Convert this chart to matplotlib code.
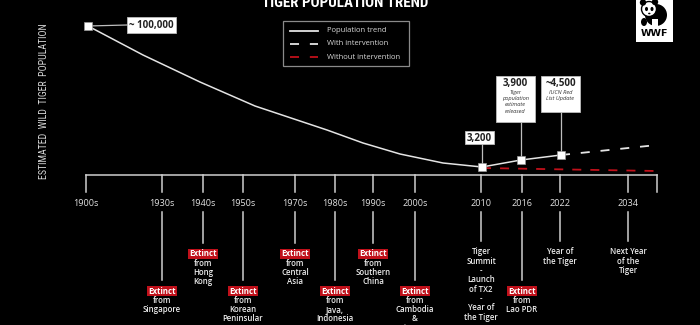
import matplotlib as mpl
import matplotlib.pyplot as plt
from matplotlib import font_manager
from matplotlib.patches import Rectangle, Circle, Ellipse

mpl.rcParams['font.family'] = ['Open Sans', 'DejaVu Sans']

# Timeline categories (position along the drawn timeline)
tick_labels = ["1900s", "1930s", "1940s", "1950s", "1970s", "1980s",
               "1990s", "2000s", "2010", "2016", "2022", "2034"]
tick_pos = [86, 162, 203, 243, 295, 335, 373, 415, 481, 522, 560, 628]
axis_end = 657

# Events below each tick
extinct = [False, True, True, True, True, True, True, True, False, True, False, False]
event_text = [
    "",
    "from\nSingapore",
    "from\nHong\nKong",
    "from\nKorean\nPeninsular",
    "from\nCentral\nAsia",
    "from\nJava,\nIndonesia",
    "from\nSouthern\nChina",
    "from\nCambodia\n&\nVietnam",
    "Tiger\nSummit\n-\nLaunch\nof TX2\n-\nYear of\nthe Tiger",
    "from\nLao PDR",
    "Year of\nthe Tiger",
    "Next Year\nof the\nTiger",
]

# Population trend: position on timeline, height above baseline (schematic)
trend_x = [88, 143, 200, 255, 327, 363, 400, 443, 482, 521, 561]
trend_h = [149, 120, 93, 69, 45, 32, 21, 12, 8, 15, 20]
with_x = [561, 657]
with_h = [20, 30]
without_x = [482, 657]
without_h = [7, 4]

# Callouts: (index in trend, headline, detail)
callouts = [
    (0, "~ 100,000", ""),
    (8, "3,200", ""),
    (9, "3,900", "Tiger\npopulation\nestimate\nreleased"),
    (10, "~4,500", "IUCN Red\nList Update"),
]

BASE = 175
LINE = "#e4e4e4"
RED = "#c0101a"

# pick the narrowest installed family for the condensed headings
installed = {f.name for f in font_manager.fontManager.ttflist}
NARROW = [f for f in ['DejaVu Sans Condensed', 'Roboto Condensed',
                      'Liberation Sans Narrow', 'Roboto'] if f in installed]
NARROW = (NARROW[:1] or []) + ['DejaVu Sans']

fig = plt.figure(figsize=(7, 3.25), dpi=100)
fig.patch.set_facecolor("black")
ax = fig.add_axes([0, 0, 1, 1])
ax.set_facecolor("black")
ax.set_xlim(0, 700)
ax.set_ylim(325, 0)
ax.axis("off")


def fit_length(t, target, vertical=False):
    r = fig.canvas.get_renderer()
    bb = t.get_window_extent(r)
    size = bb.height if vertical else bb.width
    t.set_fontsize(t.get_fontsize() * target / size)


# title (cut at the top edge) and y label
title = ax.text(345, 7, "TIGER POPULATION TREND", ha="center", va="baseline",
                fontsize=11, weight="bold", color="white", family=NARROW)
fit_length(title, 166)
ylab = ax.text(44, 101, "ESTIMATED  WILD  TIGER  POPULATION", rotation=90,
               ha="center", va="center", fontsize=7, color="#d8d8d8",
               family=NARROW)
fit_length(ylab, 157, vertical=True)

# baseline and ticks
ax.plot([tick_pos[0], axis_end], [BASE, BASE], color="#cfcfcf", lw=1.1)
for x in tick_pos + [axis_end]:
    ax.plot([x, x], [BASE, BASE + 17], color="#cfcfcf", lw=1.1)
for x, lab in zip(tick_pos, tick_labels):
    ax.text(x, 203, lab, ha="center", va="center", fontsize=6.6, color="#e0e0e0")

# event drop lines and texts
for i, (x, txt) in enumerate(zip(tick_pos, event_text)):
    if not txt:
        continue
    if extinct[i]:
        end = 243 if i in (2, 4, 6) else 280
    else:
        end = 241
    ax.plot([x, x], [212, end], color="#cfcfcf", lw=1.1)
    y = end + 11
    if extinct[i]:
        ax.text(x, y, "Extinct", ha="center", va="center", fontsize=5.7,
                weight="bold", color="white",
                bbox=dict(boxstyle="square,pad=0.12", fc=RED, ec="none"))
        y += 9.3
    for ln in txt.split("\n"):
        ax.text(x, y, ln, ha="center", va="center", fontsize=5.7,
                weight="semibold", color="#eeeeee")
        y += 9.3

# projections
ax.plot(without_x, [BASE - h for h in without_h], color=RED, lw=1.3,
        dashes=(5, 5), zorder=3)
ax.plot(with_x, [BASE - h for h in with_h], color=LINE, lw=1.3,
        dashes=(5, 6), zorder=3)

# population trend
ty = [BASE - h for h in trend_h]
ax.plot(trend_x, ty, color=LINE, lw=1.1, zorder=4)

# callouts
box_geo = {0: (127, 17, 49, 16), 8: (465, 131, 29, 13),
           9: (496, 76, 39, 46), 10: (541, 76, 39, 36)}
for idx, head, detail in callouts:
    bx, by, bw, bh = box_geo[idx]
    px, py = trend_x[idx], ty[idx]
    if idx == 0:
        ax.plot([px, bx], [py, by + 8], color="#bdbdbd", lw=0.9, zorder=3)
    else:
        ax.plot([px, px], [by + bh, py], color="#bdbdbd", lw=0.9, zorder=3)
    ax.add_patch(Rectangle((bx, by), bw, bh, fc="white", ec="#bbbbbb",
                           lw=0.6, zorder=5))
    if detail:
        ax.text(bx + bw / 2, by + 7.5, head, ha="center", va="center",
                fontsize=7, weight="bold", color="#222222", zorder=6)
        ax.text(bx + bw / 2, by + 14, detail, ha="center", va="top",
                fontsize=4.1, style="italic", color="#333333",
                linespacing=1.3, zorder=6)
    else:
        ax.text(bx + bw / 2, by + bh / 2 + 0.5, head, ha="center", va="center",
                fontsize=7, weight="bold", color="#222222", zorder=6)
    ax.plot(px, py, marker="s", ms=5.5, mfc="white", mec="#999999",
            mew=0.5, zorder=7)

# legend
ax.add_patch(Rectangle((283, 21), 126, 45, fc="black", ec="#8a8a8a", lw=0.9))
leg = [("Population trend", LINE, None),
       ("With intervention", LINE, (5, 6)),
       ("Without intervention", RED, (5, 6))]
for k, (lab, col, ds) in enumerate(leg):
    y = 30.5 + k * 13.3
    if ds:
        ax.plot([290, 318], [y, y], color=col, lw=1.3, dashes=ds)
    else:
        ax.plot([290, 318], [y, y], color=col, lw=1.3)
    ax.text(327, y, lab, ha="left", va="center", fontsize=5.5, color="#d8d8d8")

# WWF logo
ax.add_patch(Rectangle((636, -1), 37, 43, fc="white", ec="none"))
ax.add_patch(Ellipse((656, 15), 22, 22, fc="black", ec="none"))
ax.add_patch(Circle((649, 9), 7.5, fc="white", ec="black", lw=1.0))
ax.add_patch(Circle((643, 2.5), 3.2, fc="black"))
ax.add_patch(Circle((655, 2), 3.2, fc="black"))
ax.add_patch(Ellipse((646.5, 9), 3, 4.2, fc="black"))
ax.add_patch(Ellipse((652, 9), 3, 4.2, fc="black"))
ax.add_patch(Ellipse((649.3, 13.5), 2.4, 1.6, fc="black"))
ax.add_patch(Rectangle((652, 19), 6, 7, fc="white", ec="none"))
ax.add_patch(Ellipse((644, 22), 6, 8, fc="black", ec="none"))
ax.text(654.5, 34, "WWF", ha="center", va="center", fontsize=6.8,
        weight="black", color="black", family="DejaVu Sans")

fig.savefig("out.png", dpi=100, facecolor="black")
